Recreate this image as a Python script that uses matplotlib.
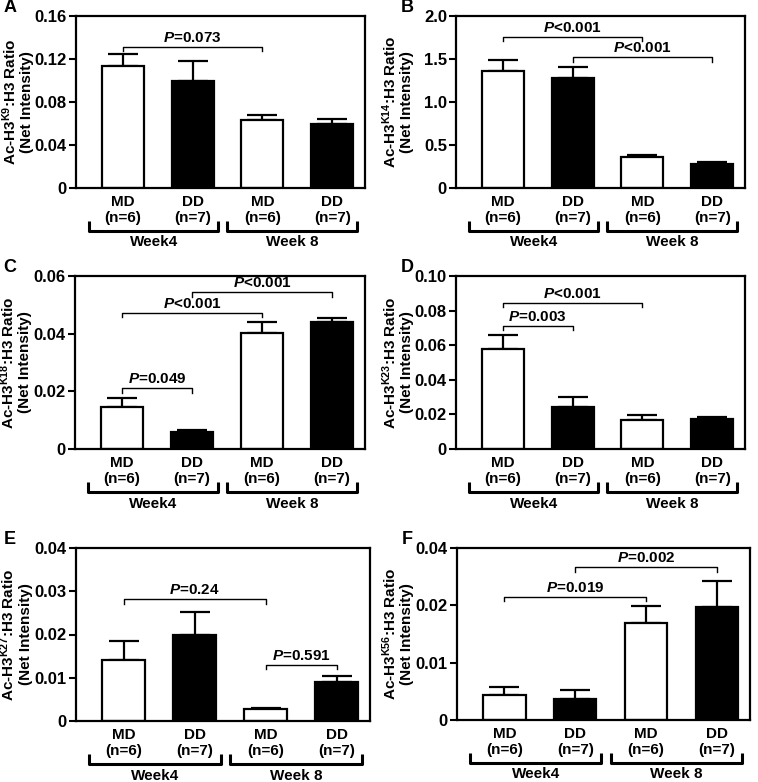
import matplotlib
matplotlib.use("Agg")
import matplotlib.pyplot as plt
import matplotlib.transforms as mtransforms

plt.rcParams["font.family"] = ["Liberation Sans", "DejaVu Sans"]
plt.rcParams["font.weight"] = "bold"
plt.rcParams["axes.labelweight"] = "bold"
plt.rcParams["mathtext.fontset"] = "custom"
plt.rcParams["mathtext.rm"] = "Liberation Sans:bold"
plt.rcParams["mathtext.bf"] = "Liberation Sans:bold"
plt.rcParams["mathtext.it"] = "Liberation Sans:bold:italic"

# ---------------------------------------------------------------------------
# Data (mean and SEM, order: MD wk4, DD wk4, MD wk8, DD wk8)
# ---------------------------------------------------------------------------
groups = ["MD\n(n=6)", "DD\n(n=7)", "MD\n(n=6)", "DD\n(n=7)"]
weeks = ["Week4", "Week 8"]
fills = ["white", "black", "white", "black"]

panel_letters = ["A", "B", "C", "D", "E", "F"]
lysines = ["K9", "K14", "K18", "K23", "K27", "K56"]

mean_k9 = [0.1139, 0.0997, 0.0628, 0.0600]
sem_k9 = [0.0105, 0.0185, 0.0050, 0.0044]
mean_k14 = [1.362, 1.284, 0.360, 0.279]
sem_k14 = [0.127, 0.120, 0.027, 0.023]
mean_k18 = [0.0144, 0.0058, 0.0404, 0.0440]
sem_k18 = [0.0033, 0.0009, 0.0038, 0.0014]
mean_k23 = [0.0579, 0.0240, 0.0165, 0.0173]
sem_k23 = [0.0081, 0.0058, 0.0029, 0.0010]
mean_k27 = [0.0140, 0.0200, 0.0027, 0.0090]
sem_k27 = [0.0044, 0.0052, 0.0004, 0.0013]
mean_k56 = [0.0044, 0.0037, 0.0170, 0.0197]
sem_k56 = [0.0014, 0.0015, 0.0028, 0.0045]

yticks_k9 = [0, 0.04, 0.08, 0.12, 0.16]
yticks_k14 = [0, 0.5, 1.0, 1.5, 2.0]
yticks_k18 = [0, 0.02, 0.04, 0.06]
yticks_k23 = [0, 0.02, 0.04, 0.06, 0.08, 0.10]
yticks_k27 = [0, 0.01, 0.02, 0.03, 0.04]
yticks_k56 = [0, 0.01, 0.02, 0.03]

ticklabels_k9 = ["0", "0.04", "0.08", "0.12", "0.16"]
ticklabels_k14 = ["0", "0.5", "1.0", "1.5", "2.0"]
ticklabels_k18 = ["0", "0.02", "0.04", "0.06"]
ticklabels_k23 = ["0", "0.02", "0.04", "0.06", "0.08", "0.10"]
ticklabels_k27 = ["0", "0.01", "0.02", "0.03", "0.04"]
ticklabels_k56 = ["0", "0.01", "0.02", "0.04"]   # top label printed as 0.04 in source

# significance brackets: (bar i, bar j, height, text after "P")
sig_k9 = [(0, 2, 0.1315, "=0.073")]
sig_k14 = [(0, 2, 1.76, "<0.001"), (1, 3, 1.52, "<0.001")]
sig_k18 = [(0, 1, 0.0211, "=0.049"), (0, 2, 0.0473, "<0.001"), (1, 3, 0.0543, "<0.001")]
sig_k23 = [(0, 1, 0.0713, "=0.003"), (0, 2, 0.0846, "<0.001")]
sig_k27 = [(0, 2, 0.0281, "=0.24"), (2, 3, 0.0130, "=0.591")]
sig_k56 = [(0, 2, 0.0215, "=0.019"), (1, 3, 0.0266, "=0.002")]

panels = [
    (mean_k9, sem_k9, yticks_k9, ticklabels_k9, sig_k9),
    (mean_k14, sem_k14, yticks_k14, ticklabels_k14, sig_k14),
    (mean_k18, sem_k18, yticks_k18, ticklabels_k18, sig_k18),
    (mean_k23, sem_k23, yticks_k23, ticklabels_k23, sig_k23),
    (mean_k27, sem_k27, yticks_k27, ticklabels_k27, sig_k27),
    (mean_k56, sem_k56, yticks_k56, ticklabels_k56, sig_k56),
]

# axes boxes in pixels: left, bottom, width, height
W, H = 758, 782
boxes = [
    (76, 188, 289, 172), (456, 188, 289, 172),
    (75, 449, 290, 173), (456, 449, 289, 173),
    (76, 721, 294, 173), (457, 720, 293, 172),
]

FS = 11

fig = plt.figure(figsize=(W / 100, H / 100), dpi=100)

for k, (means, sems, yt, ytl, sigs) in enumerate(panels):
    l, b, w, h = boxes[k]
    ax = fig.add_axes([l / W, 1 - b / H, w / W, h / H])
    x = list(range(len(means)))

    ax.bar(x, means, width=0.6, color=fills, edgecolor="black", linewidth=1.6, zorder=2)
    ax.errorbar(x, means, yerr=[[0] * len(sems), sems], fmt="none", ecolor="black",
                elinewidth=1.6, capsize=11, capthick=1.6, zorder=1)

    ax.set_xlim(-0.67, 3.47)
    ax.set_ylim(yt[0], yt[-1])
    ax.set_yticks(yt)
    ax.set_yticklabels(ytl, fontsize=12, fontweight="bold")
    ax.set_xticks(x)
    ax.set_xticklabels(groups, fontsize=FS, fontweight="bold", linespacing=1.2)
    ax.tick_params(axis="x", length=0, pad=5)
    ax.tick_params(axis="y", direction="out", length=5, width=1.5, pad=1.5)
    for sp in ax.spines.values():
        sp.set_linewidth(1.6)

    span = yt[-1] - yt[0]
    for i, j, yy, txt in sigs:
        tick = 0.026 * span
        ax.plot([x[i], x[i], x[j], x[j]], [yy - tick, yy, yy, yy - tick],
                color="black", linewidth=1.0)
        ax.text((x[i] + x[j]) / 2, yy + 0.012 * span, f"$P${txt}", ha="center",
                va="bottom", fontsize=FS, fontweight="bold")

    # week brackets under the category labels
    trans = mtransforms.blended_transform_factory(ax.transData, ax.transAxes)
    for (x0, x1), wk in zip([(-0.48, 1.37), (1.5, 3.36)], weeks):
        ax.plot([x0, x0, x1, x1], [-0.19, -0.248, -0.248, -0.19], color="black",
                linewidth=2.2, transform=trans, clip_on=False, solid_capstyle="butt")
        ax.text((x0 + x1) / 2, -0.276, wk, transform=trans, ha="center", va="top",
                fontsize=FS, fontweight="bold")

    ax.text(-0.205, 0.5, f"Ac-H3$^{{\\mathrm{{{lysines[k]}}}}}$:H3 Ratio\n(Net Intensity)",
            transform=ax.transAxes, rotation=90, ha="center", va="center",
            fontsize=FS, fontweight="bold", multialignment="center", linespacing=1.1)

    fig.text((10 if k % 2 == 0 else 407) / W, 1 - (boxes[k][1] - h - 8) / H,
             panel_letters[k], ha="center", va="center", fontsize=13, fontweight="bold")

fig.savefig("out.png", dpi=100)
